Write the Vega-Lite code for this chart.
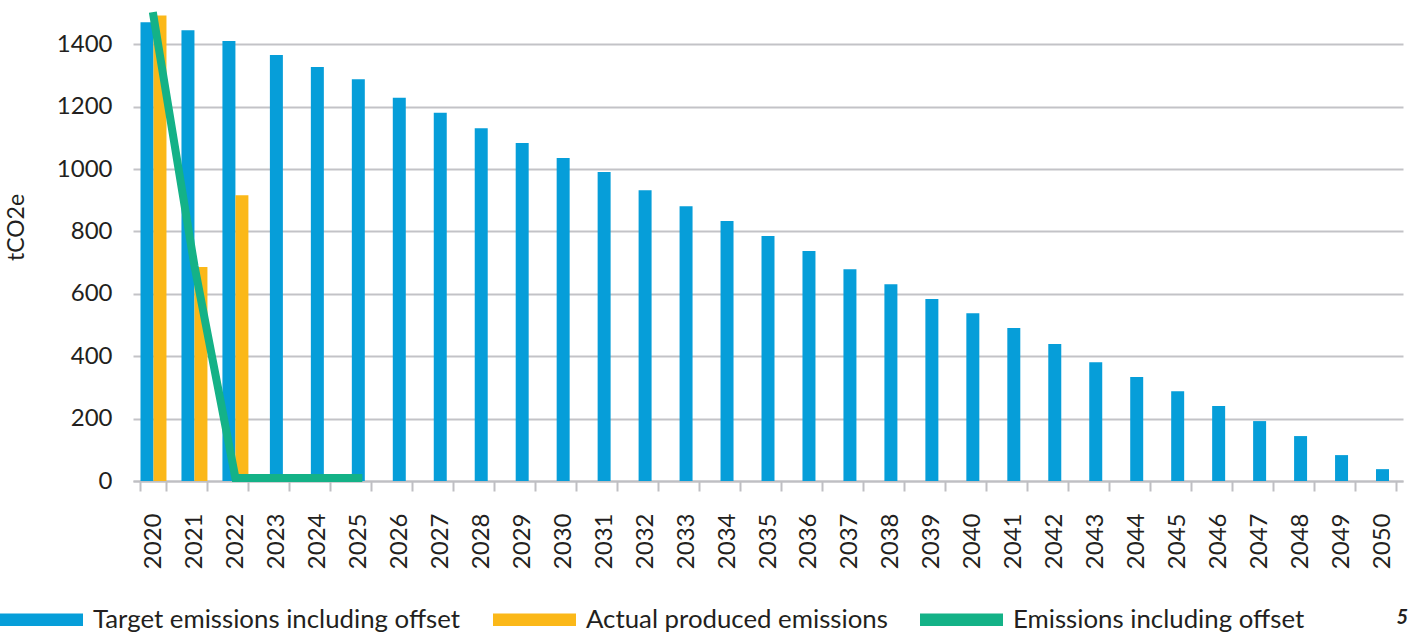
{
  "$schema": "https://vega.github.io/schema/vega-lite/v6.json",
  "width": 1270,
  "height": 468,
  "autosize": {"type": "none"},
  "padding": {"left": 133, "top": 13, "right": 15, "bottom": 155},
  "background": "white",
  "config": {
    "font": "Lato",
    "view": {"stroke": null},
    "axis": {"labelFont": "Lato", "titleFont": "Lato", "labelColor": "#231F20", "titleColor": "#231F20"}
  },
  "title": {
    "text": "5",
    "orient": "top",
    "anchor": "end",
    "fontSize": 20,
    "fontWeight": "bold",
    "fontStyle": "italic",
    "font": "Lato",
    "color": "#231F20",
    "offset": 0,
    "dy": 628,
    "dx": 5
  },
  "data": {
    "values": [
      {"year": "2020", "series": "Target emissions including offset", "value": 1470},
      {"year": "2021", "series": "Target emissions including offset", "value": 1445},
      {"year": "2022", "series": "Target emissions including offset", "value": 1410},
      {"year": "2023", "series": "Target emissions including offset", "value": 1365},
      {"year": "2024", "series": "Target emissions including offset", "value": 1327},
      {"year": "2025", "series": "Target emissions including offset", "value": 1288},
      {"year": "2026", "series": "Target emissions including offset", "value": 1228},
      {"year": "2027", "series": "Target emissions including offset", "value": 1180},
      {"year": "2028", "series": "Target emissions including offset", "value": 1131},
      {"year": "2029", "series": "Target emissions including offset", "value": 1083},
      {"year": "2030", "series": "Target emissions including offset", "value": 1035},
      {"year": "2031", "series": "Target emissions including offset", "value": 990},
      {"year": "2032", "series": "Target emissions including offset", "value": 932},
      {"year": "2033", "series": "Target emissions including offset", "value": 881},
      {"year": "2034", "series": "Target emissions including offset", "value": 833},
      {"year": "2035", "series": "Target emissions including offset", "value": 785},
      {"year": "2036", "series": "Target emissions including offset", "value": 737},
      {"year": "2037", "series": "Target emissions including offset", "value": 679},
      {"year": "2038", "series": "Target emissions including offset", "value": 631},
      {"year": "2039", "series": "Target emissions including offset", "value": 583},
      {"year": "2040", "series": "Target emissions including offset", "value": 538},
      {"year": "2041", "series": "Target emissions including offset", "value": 490},
      {"year": "2042", "series": "Target emissions including offset", "value": 439},
      {"year": "2043", "series": "Target emissions including offset", "value": 381},
      {"year": "2044", "series": "Target emissions including offset", "value": 333},
      {"year": "2045", "series": "Target emissions including offset", "value": 288},
      {"year": "2046", "series": "Target emissions including offset", "value": 240},
      {"year": "2047", "series": "Target emissions including offset", "value": 192},
      {"year": "2048", "series": "Target emissions including offset", "value": 144},
      {"year": "2049", "series": "Target emissions including offset", "value": 83},
      {"year": "2050", "series": "Target emissions including offset", "value": 38},
      {"year": "2020", "series": "Actual produced emissions", "value": 1492},
      {"year": "2021", "series": "Actual produced emissions", "value": 686},
      {"year": "2022", "series": "Actual produced emissions", "value": 916},
      {"year": "2020", "series": "Emissions including offset", "value": 1490},
      {"year": "2021", "series": "Emissions including offset", "value": 690},
      {"year": "2022", "series": "Emissions including offset", "value": 10},
      {"year": "2023", "series": "Emissions including offset", "value": 10},
      {"year": "2024", "series": "Emissions including offset", "value": 10},
      {"year": "2025", "series": "Emissions including offset", "value": 10}
    ]
  },
  "encoding": {
    "x": {
      "field": "year",
      "type": "nominal",
      "sort": null,
      "scale": {"paddingInner": 0.366, "paddingOuter": 0.183},
      "axis": {
        "title": null,
        "labelAngle": -90,
        "labelFontSize": 24,
        "labelPadding": 22,
        "tickBand": "extent",
        "tickSize": 10,
        "tickWidth": 2,
        "tickColor": "#BFBFC3",
        "domainColor": "#BFBFC3",
        "domainWidth": 2,
        "grid": false
      }
    },
    "y": {
      "field": "value",
      "type": "quantitative",
      "scale": {"domain": [0, 1500], "nice": false},
      "axis": {
        "title": "tCO2e",
        "titleFontSize": 23,
        "titleFontWeight": "normal",
        "titlePadding": 28,
        "titleY": 214,
        "format": "d",
        "values": [0, 200, 400, 600, 800, 1000, 1200, 1400],
        "labelFontSize": 24,
        "labelPadding": 21,
        "ticks": false,
        "domain": false,
        "gridColor": "#C3C3C7",
        "gridWidth": 2
      }
    },
    "color": {
      "field": "series",
      "type": "nominal",
      "scale": {
        "domain": ["Target emissions including offset", "Actual produced emissions", "Emissions including offset"],
        "range": ["#069ED9", "#FBB819", "#14B287"]
      },
      "legend": {
        "title": null,
        "orient": "none",
        "direction": "horizontal",
        "legendX": -133,
        "legendY": 565,
        "symbolType": "M-1,-0.15H1V0.15H-1Z",
        "symbolSize": 6889,
        "symbolStrokeWidth": 0,
        "labelFontSize": 25.8,
        "labelFont": "Lato",
        "labelColor": "#231F20",
        "labelOffset": 10,
        "columnPadding": 32,
        "labelLimit": 600
      }
    }
  },
  "layer": [
    {
      "transform": [
        {"filter": "datum.series !== 'Emissions including offset'"},
        {"joinaggregate": [{"op": "count", "as": "n"}], "groupby": ["year"]},
        {"filter": "datum.n === 2"}
      ],
      "mark": {"type": "bar"},
      "encoding": {
        "xOffset": {
          "field": "series",
          "type": "nominal",
          "scale": {"domain": ["Target emissions including offset", "Actual produced emissions"], "paddingInner": 0, "paddingOuter": 0}
        }
      }
    },
    {
      "transform": [
        {"filter": "datum.series !== 'Emissions including offset'"},
        {"joinaggregate": [{"op": "count", "as": "n"}], "groupby": ["year"]},
        {"filter": "datum.n === 1"}
      ],
      "mark": {"type": "bar", "width": {"band": 0.5}}
    },
    {
      "transform": [{"filter": "datum.series === 'Emissions including offset'"}],
      "mark": {"type": "line", "strokeWidth": 8, "strokeCap": "square"},
      "encoding": {}
    }
  ]
}
